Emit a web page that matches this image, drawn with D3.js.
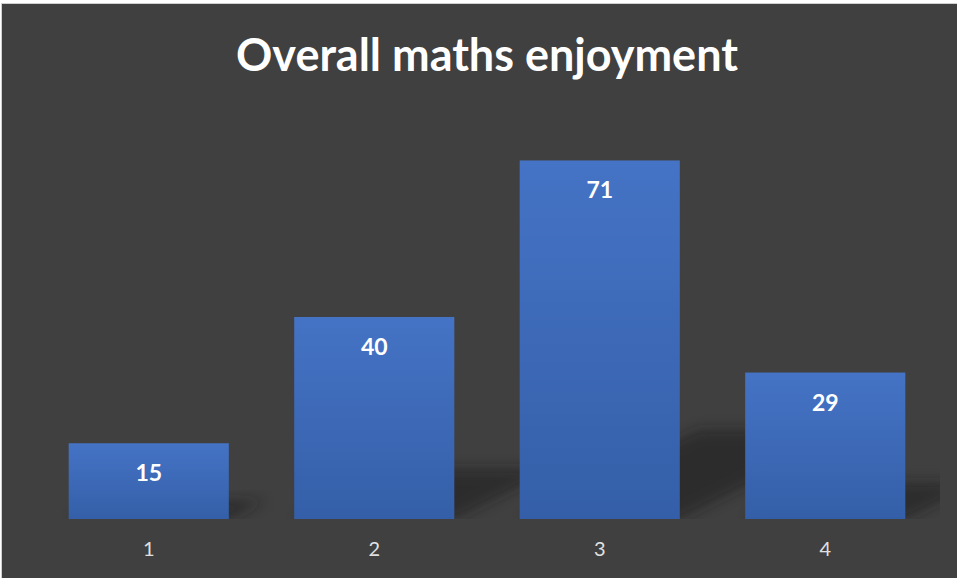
<!DOCTYPE html>
<html>
<head>
<meta charset="utf-8">
<script src="https://cdn.jsdelivr.net/npm/d3@7"></script>
<style>
  html, body { margin: 0; padding: 0; background: #ffffff; }
  svg { display: block; }
</style>
</head>
<body>
<svg id="chart" width="957" height="578"></svg>
<script>
// Survey results: how many pupils picked each enjoyment level
const categories = ["1", "2", "3", "4"];
const counts = [15, 40, 71, 29];
const title = "Overall maths enjoyment";

const W = 957, H = 578;
const svg = d3.select("#chart");

// Chart panel
svg.append("rect")
  .attr("x", 1.5).attr("y", 3.5)
  .attr("width", W).attr("height", H)
  .attr("fill", "#404040")
  .attr("stroke", "#d0d0d0").attr("stroke-width", 1);

const plot = { left: 36, right: 938, top: 115, bottom: 519 };

const x = d3.scaleBand()
  .domain(categories)
  .range([plot.left, plot.right])
  .paddingInner(0.29)
  .paddingOuter(0.145);

const y = d3.scaleLinear()
  .domain([0, 80])
  .range([plot.bottom, plot.top]);

const defs = svg.append("defs");

const grad = defs.append("linearGradient")
  .attr("id", "barFill")
  .attr("x1", 0).attr("y1", 0).attr("x2", 0).attr("y2", 1);
grad.append("stop").attr("offset", "0%").attr("stop-color", "#4573C5");
grad.append("stop").attr("offset", "100%").attr("stop-color", "#345FA8");

const blur = defs.append("filter")
  .attr("id", "shadowBlur")
  .attr("x", "-50%").attr("y", "-50%").attr("width", "200%").attr("height", "200%");
blur.append("feGaussianBlur").attr("stdDeviation", 7);

defs.append("clipPath").attr("id", "plotClip")
  .append("rect")
  .attr("x", plot.left - 30).attr("y", plot.top - 50)
  .attr("width", plot.right - plot.left + 32)
  .attr("height", plot.bottom - plot.top + 50);

const data = categories.map((c, i) => ({ cat: c, value: counts[i] }));

// Perspective shadows cast up and to the right of each bar
const shadowLayer = svg.append("g").attr("clip-path", "url(#plotClip)");
shadowLayer.selectAll("path")
  .data(data)
  .join("path")
  .attr("d", d => {
    const x0 = x(d.cat), x1 = x0 + x.bandwidth();
    const base = y(0);
    const h = base - y(d.value);
    const sh = h * 0.25, dx = h * 0.5;
    return `M${x0},${base}L${x1},${base}L${x1 + dx},${base - sh}L${x0 + dx},${base - sh}Z`;
  })
  .attr("fill", "#151515")
  .attr("opacity", 0.45)
  .attr("filter", "url(#shadowBlur)");

// Bars
svg.append("g").selectAll("rect")
  .data(data)
  .join("rect")
  .attr("x", d => x(d.cat))
  .attr("y", d => y(d.value))
  .attr("width", x.bandwidth())
  .attr("height", d => y(0) - y(d.value))
  .attr("fill", "url(#barFill)");

// Value labels inside the top of each bar
svg.append("g").selectAll("text")
  .data(data)
  .join("text")
  .attr("x", d => x(d.cat) + x.bandwidth() / 2)
  .attr("y", d => y(d.value) + 38)
  .attr("text-anchor", "middle")
  .attr("font-family", "Lato, 'Open Sans', sans-serif")
  .attr("font-weight", 700)
  .attr("font-size", 23)
  .attr("fill", "#ffffff")
  .text(d => d.value);

// Category axis (labels only, no line or ticks)
const xAxis = svg.append("g")
  .attr("transform", `translate(0,${plot.bottom})`)
  .call(d3.axisBottom(x).tickSize(0).tickPadding(23));
xAxis.select(".domain").remove();
xAxis.selectAll("text")
  .attr("font-family", "Lato, 'Open Sans', sans-serif")
  .attr("font-size", 20)
  .attr("fill", "#e0e0e0");

// Title
const t = svg.append("text")
  .attr("x", 487).attr("y", 71)
  .attr("text-anchor", "middle")
  .attr("font-family", "Lato, 'Open Sans', sans-serif")
  .attr("font-weight", 700)
  .attr("font-size", 44)
  .attr("fill", "#ffffff")
  .text(title);
const tw = t.node().getComputedTextLength();
t.attr("font-size", 44 * 502 / tw);
</script>
</body>
</html>
